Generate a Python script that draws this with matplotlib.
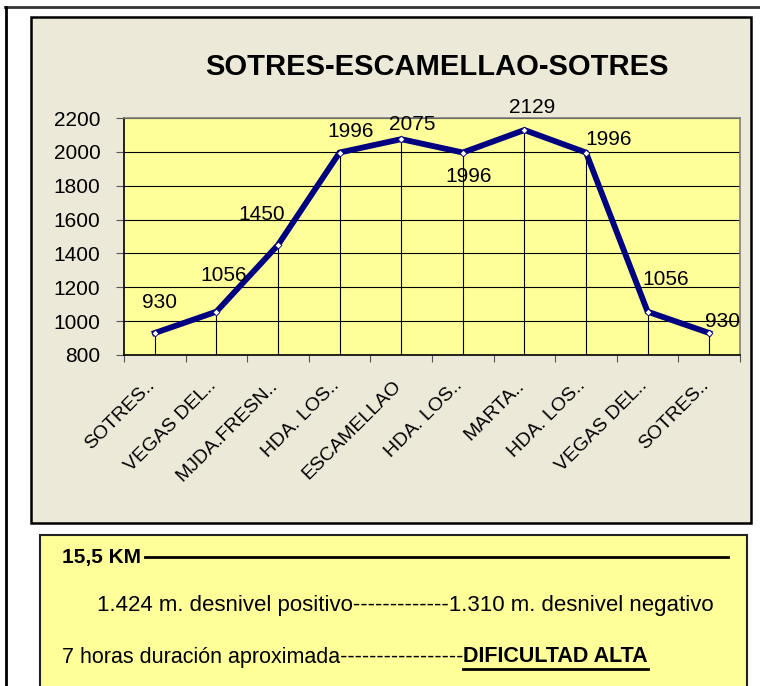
import matplotlib
matplotlib.use("Agg")
import matplotlib.pyplot as plt
from matplotlib.patches import Rectangle
from matplotlib.lines import Line2D

plt.rcParams["font.family"] = ["Liberation Sans", "DejaVu Sans"]

# ---------------------------------------------------------------- data
points = ["SOTRES..", "VEGAS DEL..", "MJDA.FRESN..", "HDA. LOS..", "ESCAMELLAO",
          "HDA. LOS..", "MARTA..", "HDA. LOS..", "VEGAS DEL..", "SOTRES.."]
altitude = [930, 1056, 1450, 1996, 2075, 1996, 2129, 1996, 1056, 930]
# label offsets (px) relative to each point
label_dx = [5, 7, -16, 11, 11, 6, 8, 23, 18, 13]
label_dy = [30, 36, 30, 21, 15, -24, 23, 13, 32, 11]
yticks = [800, 1000, 1200, 1400, 1600, 1800, 2000, 2200]
title = "SOTRES-ESCAMELLAO-SOTRES"
distance = "15,5 KM"
desnivel = "1.424 m. desnivel positivo-------------1.310 m. desnivel negativo"
duracion = "7 horas duración aproximada-----------------"
dificultad = "DIFICULTAD ALTA"

NAVY, PLOT_BG, CHART_BG, BOX_BG = "#000080", "#FFFF99", "#ECE9D8", "#FFFF99"

fig = plt.figure(figsize=(7.6, 6.86), dpi=100)
W, H = 760, 686

def fx(px):
    return px / W

def fy(py):
    return 1 - py / H

# outer frame lines
fig.add_artist(Line2D([fx(5), 1], [fy(7), fy(7)], color="#333333", lw=2, zorder=-5))
fig.add_artist(Line2D([fx(6), fx(6)], [fy(7), 0], color="black", lw=2, zorder=-5))

# chart area
fig.add_artist(Rectangle((fx(31), fy(523)), fx(720), 506 / H, facecolor=CHART_BG,
                         edgecolor="black", lw=1.8, zorder=-5))
# info box
fig.add_artist(Rectangle((fx(40), -0.02), fx(707), fy(535) + 0.02, facecolor=BOX_BG,
                         edgecolor="#222222", lw=1.5, zorder=-5))

# ---------------------------------------------------------------- chart
ax = fig.add_axes([fx(124), fy(355), fx(616), (355 - 118) / H])
ax.set_facecolor(PLOT_BG)
x = list(range(len(points)))
ax.set_xlim(-0.5, len(points) - 0.5)
ax.set_ylim(800, 2200)
ax.set_yticks(yticks)
ax.yaxis.grid(True, color="black", lw=0.8)
ax.set_axisbelow(True)
ax.vlines(x, 800, altitude, color="black", lw=0.8)
ax.plot(x, altitude, color=NAVY, lw=4.2, marker="D", ms=3.5, mfc="white", mec=NAVY,
        mew=0.6, solid_joinstyle="miter", zorder=3)
for xi, v, dx, dy in zip(x, altitude, label_dx, label_dy):
    ax.annotate(str(v), (xi, v), xytext=(dx, dy), textcoords="offset pixels",
                ha="center", va="center", fontsize=15, annotation_clip=False)

ax.set_xticks([i - 0.5 for i in range(len(points) + 1)])
ax.set_xticklabels([])
ax.tick_params(axis="x", direction="out", length=5, color="#555555")
ax.tick_params(axis="y", direction="out", length=6, color="#555555", labelsize=15,
               pad=11)
for xi, name in zip(x, points):
    ax.annotate(name, (xi, 800), xytext=(-3, -28), textcoords="offset pixels",
                rotation=45, ha="right", va="center", rotation_mode="anchor",
                fontsize=14, annotation_clip=False)
for side in ["top", "right", "bottom", "left"]:
    ax.spines[side].set_color("#808080")
    ax.spines[side].set_linewidth(1.2)
ax.spines["left"].set_color("black")
ax.spines["bottom"].set_color("black")

fig.text(fx(437), fy(67), title, ha="center", va="center", fontsize=21,
         fontweight="bold")

# ---------------------------------------------------------------- info box
fig.text(fx(62), fy(557), distance, ha="left", va="center", fontsize=15,
         fontweight="bold")
fig.add_artist(Line2D([fx(145), fx(728)], [fy(557), fy(557)], color="black", lw=2))
fig.text(fx(97), fy(606), desnivel, ha="left", va="center", fontsize=16)
t = fig.text(fx(62), fy(657), duracion, ha="left", va="center", fontsize=15.5)
fig.canvas.draw()
bb = t.get_window_extent()
d = fig.text(bb.x1 / W, fy(657), dificultad, ha="left", va="center", fontsize=15.5,
             fontweight="bold")
fig.canvas.draw()
db = d.get_window_extent()
fig.add_artist(Line2D([db.x0 / W, db.x1 / W], [fy(669), fy(669)], color="black", lw=2))

fig.savefig("out.png", dpi=100)
